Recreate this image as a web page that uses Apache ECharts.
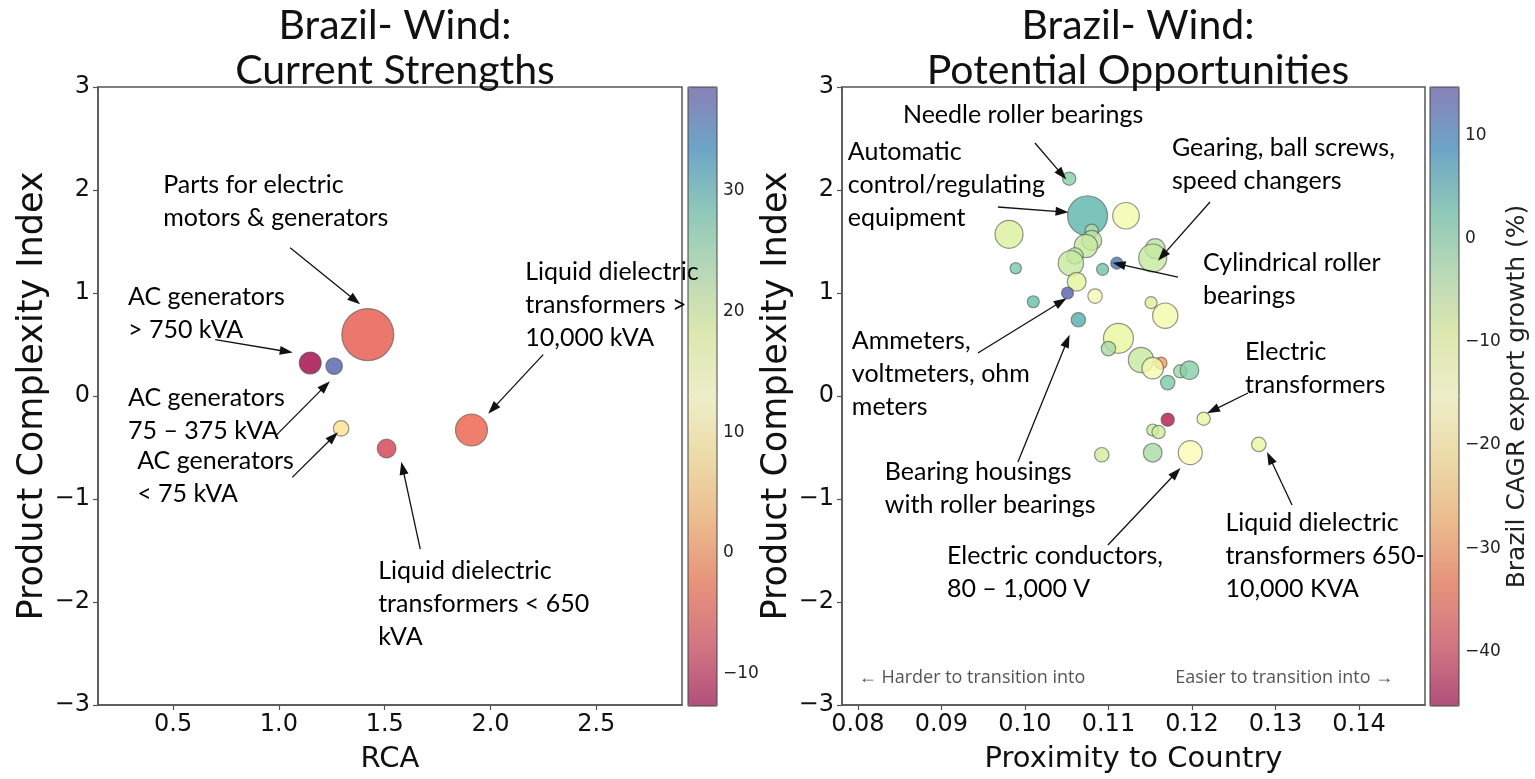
<!DOCTYPE html>
<html>
<head>
<meta charset="utf-8">
<script src="https://cdn.jsdelivr.net/npm/echarts@6/dist/echarts.min.js"></script>
<style>
html,body{margin:0;padding:0;background:#fff;}
#chart{width:1535px;height:779px;}
</style>
</head>
<body>
<div id="chart"></div>
<script>
// ---------- DATA ----------
// Left panel: current strengths
const leftNames   = ['Parts for electric motors & generators','AC generators > 750 kVA','AC generators 75-375 kVA','AC generators < 75 kVA','Liquid dielectric transformers < 650 kVA','Liquid dielectric transformers > 10,000 kVA'];
const leftRCA     = [1.42, 1.148, 1.261, 1.294, 1.509, 1.91];
const leftPCI     = [0.596, 0.32, 0.29, -0.315, -0.51, -0.33];
const leftTrade   = [169, 30, 17, 15, 22, 64];
const leftGrowth  = [-5, -12.5, 37, 8, -7.5, -4];

// Right panel: potential opportunities
const rightProx   = [0.1075, 0.1053, 0.1121, 0.0981, 0.108, 0.108, 0.1073, 0.1156, 0.1153, 0.106, 0.1055, 0.111, 0.1093, 0.0989, 0.1062, 0.1051, 0.101, 0.1084, 0.1151, 0.1168, 0.1064, 0.1112, 0.11, 0.1139, 0.1163, 0.1153, 0.1186, 0.1197, 0.1171, 0.1171, 0.1214, 0.1153, 0.116, 0.1092, 0.1153, 0.1198, 0.128];
const rightPCI    = [1.75, 2.11, 1.75, 1.57, 1.605, 1.51, 1.456, 1.43, 1.34, 1.36, 1.29, 1.29, 1.23, 1.24, 1.11, 1.0, 0.915, 0.97, 0.906, 0.78, 0.74, 0.56, 0.46, 0.35, 0.32, 0.27, 0.24, 0.25, 0.13, -0.23, -0.22, -0.33, -0.35, -0.57, -0.55, -0.55, -0.47];
const rightTrade  = [100, 11, 44, 49, 11, 25, 34, 25, 49, 17, 40, 9, 9, 8, 22, 9, 9, 13, 9, 40, 13, 56, 13, 40, 9, 29, 11, 22, 13, 11, 11, 9, 11, 13, 22, 36, 13];
const rightGrowth = [4, 0, -12, -8, -4, -5, -6, -5, -6, -5, -6, 10.5, 2, 1, -9, 13, 3, -13, -8, -12, 5, -10, -3, -6, -29, -12, -2, 0, 1, -43, -10, -6, -7, -7, -3, -14, -10];

// Tick labels
const leftXTicks  = [0.5, 1.0, 1.5, 2.0, 2.5];
const rightXTicks = [0.08, 0.09, 0.10, 0.11, 0.12, 0.13, 0.14];
const pciTicks    = [-3, -2, -1, 0, 1, 2, 3];
const leftCbTicks = [-10, 0, 10, 20, 30];
const rightCbTicks= [-40, -30, -20, -10, 0, 10];

// Colour-scale extents
const leftCbRange  = [-12.7, 38.6];
const rightCbRange = [-45.3, 14.7];

// Annotations (text, anchor in data coordinates: left edge / top of first line)
const leftAnnText = ['Parts for electric\nmotors & generators', 'Liquid dielectric\ntransformers >\n10,000 kVA', 'AC generators\n> 750 kVA', 'AC generators\n75 \u2013 375 kVA', 'AC generators\n< 75 kVA', 'Liquid dielectric\ntransformers < 650\nkVA'];
const leftAnnX = [0.453, 2.164, 0.287, 0.287, 0.33, 1.469];
const leftAnnY = [2.21, 1.366, 1.124, 0.145, -0.475, -1.541];
// arrows: [x1, y1, x2(tip), y2(tip)]
const leftArrows = [
  [1.053, 1.439, 1.36, 0.93],
  [2.249, 0.402, 2.01, -0.125],
  [0.699, 0.547, 1.035, 0.432],
  [0.982, -0.392, 1.219, 0.098],
  [1.063, -0.79, 1.257, -0.396],
  [1.668, -1.487, 1.585, -0.7]
];

const rightAnnText = ['Needle roller bearings', 'Automatic\ncontrol/regulating\nequipment', 'Gearing, ball screws,\nspeed changers', 'Cylindrical roller\nbearings', 'Ammeters,\nvoltmeters, ohm\nmeters', 'Electric\ntransformers', 'Bearing housings\nwith roller bearings', 'Electric conductors,\n80 \u2013 1,000 V', 'Liquid dielectric\ntransformers 650-\n10,000 KVA'];
const rightAnnX = [0.0854, 0.0788, 0.1176, 0.12132, 0.07928, 0.12635, 0.08323, 0.09066, 0.124];
const rightAnnY = [2.888, 2.529, 2.568, 1.451, 0.694, 0.587, -0.578, -1.393, -1.073];
const rightArrows = [
  [0.1012, 2.456, 0.10445, 2.15],
  [0.09677, 1.835, 0.10445, 1.788],
  [0.12216, 1.883, 0.11645, 1.36],
  [0.11832, 1.155, 0.11125, 1.28],
  [0.09437, 0.417, 0.10433, 0.915],
  [0.12671, 0.029, 0.1225, -0.14],
  [0.09916, -0.641, 0.10505, 0.535],
  [0.10994, -1.447, 0.1181, -0.745],
  [0.13198, -1.058, 0.12932, -0.6]
];
const hintText = ['\u2190 Harder to transition into', 'Easier to transition into \u2192'];
const hintX = [0.0801, 0.1441];
const hintY = [-2.74, -2.74];

// ---------- STYLE / BUILD ----------
const SPECTRAL = ['#9e0142','#d53e4f','#f46d43','#fdae61','#fee08b','#ffffbf','#e6f598','#abdda4','#66c2a5','#3288bd','#5e4fa2'];
function rgba(hex, a){const n=parseInt(hex.slice(1),16);return 'rgba('+(n>>16&255)+','+(n>>8&255)+','+(n&255)+','+a+')';}
const barColors = SPECTRAL.map(h => rgba(h, 0.62));
const dotColors = SPECTRAL.map(h => rgba(h, 0.8));
const minus = s => String(s).replace('-', '\u2212');

const TICK_FONT = 'DejaVu Sans';
const ANN_FONT = 'Lato';
const G0 = {left:98, top:87, width:584, height:619};
const G1 = {left:842, top:87, width:583, height:619};

function valueAxis(gi, min, max, ticks, fmt, name, isY, nameGap, nameSize){
  return {
    type:'value', gridIndex:gi, min:min, max:max,
    name:name, nameLocation:'middle', nameGap:nameGap, nameRotate: isY ? 90 : 0,
    nameTextStyle:{fontFamily:TICK_FONT, fontSize:nameSize, color:'#111'},
    axisLine:{show:true, onZero:false, lineStyle:{color:'#555', width:1.5}},
    axisTick:{show:true, customValues:ticks, length:5, lineStyle:{color:'#555', width:1.2}},
    axisLabel:{show:true, customValues:ticks, formatter:fmt, fontFamily:TICK_FONT, fontSize:24, color:'#111', margin:8},
    splitLine:{show:false}
  };
}
function cbAxis(gi, range, ticks, name){
  return {
    type:'value', gridIndex:gi, position:'right', min:range[0], max:range[1],
    name:name || '', nameLocation:'middle', nameGap:42, nameRotate:90,
    nameTextStyle:{fontFamily:TICK_FONT, fontSize:25, color:'#222'},
    axisLine:{show:false},
    axisTick:{show:true, customValues:ticks, length:5, lineStyle:{color:'#333', width:1}},
    axisLabel:{show:true, customValues:ticks, formatter:v=>minus(v), fontFamily:TICK_FONT, fontSize:17, color:'#222', margin:6},
    splitLine:{show:false}
  };
}
function hiddenX(gi){return {type:'value', gridIndex:gi, show:false, min:0, max:1};}

function bubbles(xs, ys, sz, gr){return xs.map((x,i)=>[x, ys[i], sz[i], gr[i]]);}
function annSeries(xi, texts, xs, ys, arrows){
  return {
    type:'scatter', xAxisIndex:xi, yAxisIndex:xi, symbolSize:0, silent:true, z:5, animation:false,
    itemStyle:{opacity:1},
    data: texts.map((t,i)=>({value:[xs[i], ys[i]], label:{formatter:t}})),
    label:{show:true, position:[0,0], align:'left', verticalAlign:'top', fontFamily:ANN_FONT, fontSize:25, lineHeight:33, color:'#000', opacity:1},
    markLine:{
      silent:true, animation:false, symbol:['none','triangle'], symbolSize:[9,13], precision:6,
      label:{show:false}, emphasis:{disabled:true},
      itemStyle:{color:'#111'},
      lineStyle:{color:'#111', width:1.3, type:'solid', opacity:1},
      data: arrows.map(a=>[{coord:[a[0],a[1]]},{coord:[a[2],a[3]]}])
    }
  };
}
function visual(si, range, left, colors, show){
  return {type:'continuous', show:show, seriesIndex:si, dimension:3, min:range[0], max:range[1],
    left:left, top:87, itemWidth:29, itemHeight:619, padding:0, calculable:false, text:null,
    hoverLink:false, inRange:{color:colors}};
}

const option = {
  animation:false,
  backgroundColor:'#ffffff',
  title:[
    {text:'Brazil- Wind:\nCurrent Strengths', left:390, top:-2, textAlign:'center',
     textStyle:{fontFamily:ANN_FONT, fontSize:41, fontWeight:'normal', color:'#111', lineHeight:45}},
    {text:'Brazil- Wind:\nPotential Opportunities', left:1133, top:-2, textAlign:'center',
     textStyle:{fontFamily:ANN_FONT, fontSize:41, fontWeight:'normal', color:'#111', lineHeight:45}}
  ],
  grid:[
    Object.assign({show:true, borderColor:'#555', borderWidth:1.5, backgroundColor:'transparent'}, G0),
    Object.assign({show:true, borderColor:'#555', borderWidth:1.5, backgroundColor:'transparent'}, G1),
    {left:688, top:87, width:29, height:619, show:true, borderColor:'#444', borderWidth:1, backgroundColor:'transparent', z:10},
    {left:1430, top:87, width:29, height:619, show:true, borderColor:'#444', borderWidth:1, backgroundColor:'transparent', z:10}
  ],
  xAxis:[
    valueAxis(0, 0.145, 2.905, leftXTicks, v=>v.toFixed(1), 'RCA', false, 40, 29),
    valueAxis(1, 0.0781, 0.1479, rightXTicks, v=>v.toFixed(2), 'Proximity to Country', false, 40, 29),
    hiddenX(2), hiddenX(3)
  ],
  yAxis:[
    valueAxis(0, -3, 3, pciTicks, v=>minus(v), 'Product Complexity Index', true, 40, 35),
    valueAxis(1, -3, 3, pciTicks, v=>minus(v), 'Product Complexity Index', true, 40, 35),
    cbAxis(2, leftCbRange, leftCbTicks, ''),
    cbAxis(3, rightCbRange, rightCbTicks, 'Brazil CAGR export growth (%)')
  ],
  visualMap:[
    visual(5, leftCbRange, 688, barColors, true),
    visual(6, rightCbRange, 1430, barColors, true),
    visual(0, leftCbRange, 688, dotColors, false),
    visual(1, rightCbRange, 1430, dotColors, false)
  ],
  series:[
    {type:'scatter', xAxisIndex:0, yAxisIndex:0, silent:true, z:3,
     data:bubbles(leftRCA, leftPCI, leftTrade, leftGrowth),
     symbolSize:d=>4*Math.sqrt(d[2]),
     itemStyle:{opacity:1, borderColor:'rgba(80,80,80,0.6)', borderWidth:1.2}},
    {type:'scatter', xAxisIndex:1, yAxisIndex:1, silent:true, z:3,
     data:bubbles(rightProx, rightPCI, rightTrade, rightGrowth),
     symbolSize:d=>4*Math.sqrt(d[2]),
     itemStyle:{opacity:1, borderColor:'rgba(80,80,80,0.6)', borderWidth:1.2}},
    annSeries(0, leftAnnText, leftAnnX, leftAnnY, leftArrows),
    annSeries(1, rightAnnText, rightAnnX, rightAnnY, rightArrows),
    {type:'scatter', xAxisIndex:1, yAxisIndex:1, symbolSize:0, silent:true, z:5, itemStyle:{opacity:1},
     data: hintText.map((t,i)=>({value:[hintX[i], hintY[i]], label:{formatter:t, align: i===0 ? 'left' : 'right'}})),
     label:{show:true, position:[0,0], verticalAlign:'middle', fontFamily:'Open Sans', fontSize:18, color:'#555'}},
    {type:'scatter', xAxisIndex:0, yAxisIndex:0, data:[]},
    {type:'scatter', xAxisIndex:1, yAxisIndex:1, data:[]}
  ]
};
const chart = echarts.init(document.getElementById('chart'), null, {renderer:'canvas'});
chart.setOption(option);
</script>
</body>
</html>
